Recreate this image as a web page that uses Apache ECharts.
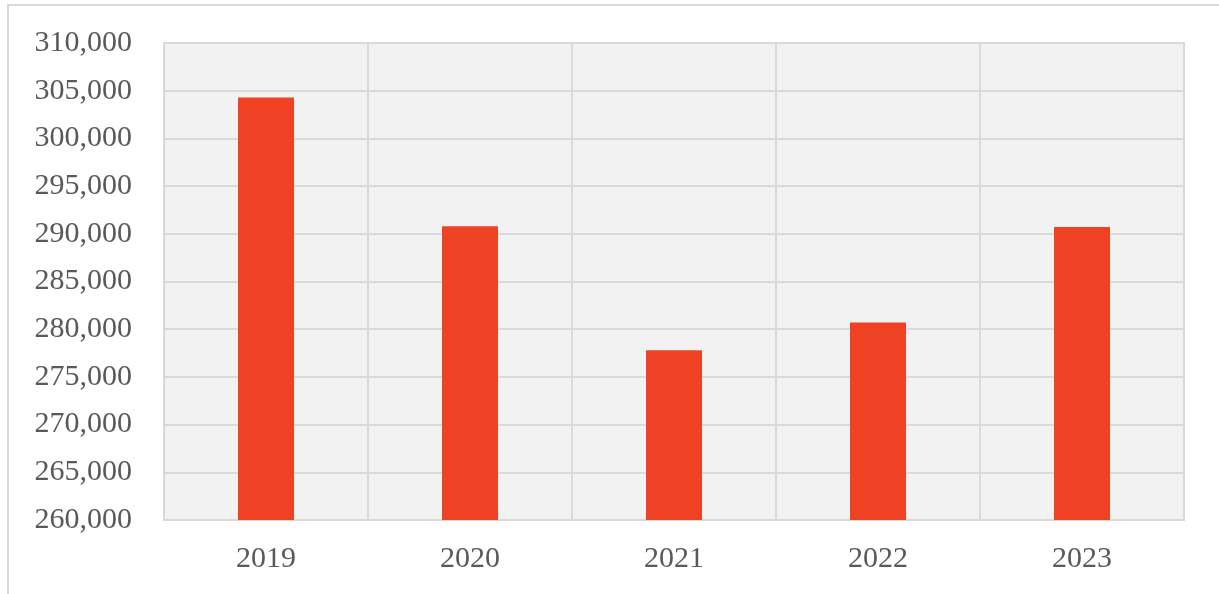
<!DOCTYPE html>
<html>
<head>
<meta charset="utf-8">
<script src="https://cdn.jsdelivr.net/npm/echarts@6/dist/echarts.min.js"></script>
<style>
  html, body { margin: 0; padding: 0; background: #ffffff; }
  #chart { width: 1219px; height: 594px; }
</style>
</head>
<body>
<div id="chart"></div>
<script>
// Annual totals, 2019–2023
const years = ['2019', '2020', '2021', '2022', '2023'];
const totals = [304300, 290800, 277800, 280700, 290700];

// Value axis range
const yMin = 260000;
const yMax = 310000;
const yStep = 5000;

const chart = echarts.init(document.getElementById('chart'));

const labelFont = {
  fontFamily: '"Liberation Serif", "DejaVu Serif", serif',
  fontSize: 30,
  color: '#595959'
};

chart.setOption({
  animation: false,
  backgroundColor: '#ffffff',
  graphic: [{
    type: 'rect',
    shape: { x: 8, y: 5, width: 1230, height: 610 },
    style: { fill: 'none', stroke: '#d9d9d9', lineWidth: 2 },
    silent: true,
    z: -10
  }],
  grid: {
    left: 164,
    right: 35,
    top: 43,
    bottom: 74,
    show: true,
    backgroundColor: '#f2f2f2',
    borderColor: '#d9d9d9',
    borderWidth: 2
  },
  xAxis: {
    type: 'category',
    data: years,
    boundaryGap: true,
    axisLine: { show: false },
    axisTick: { show: false },
    splitLine: { show: true, lineStyle: { color: '#d9d9d9', width: 2 } },
    axisLabel: Object.assign({ margin: 24 }, labelFont)
  },
  yAxis: {
    type: 'value',
    min: yMin,
    max: yMax,
    interval: yStep,
    axisLine: { show: false },
    axisTick: { show: false },
    splitLine: { show: true, lineStyle: { color: '#d9d9d9', width: 2 } },
    axisLabel: Object.assign({
      margin: 32,
      formatter: v => v.toLocaleString('en-US')
    }, labelFont)
  },
  series: [{
    type: 'bar',
    data: totals,
    barWidth: 56,
    itemStyle: { color: '#ef4123' }
  }]
});
</script>
</body>
</html>
